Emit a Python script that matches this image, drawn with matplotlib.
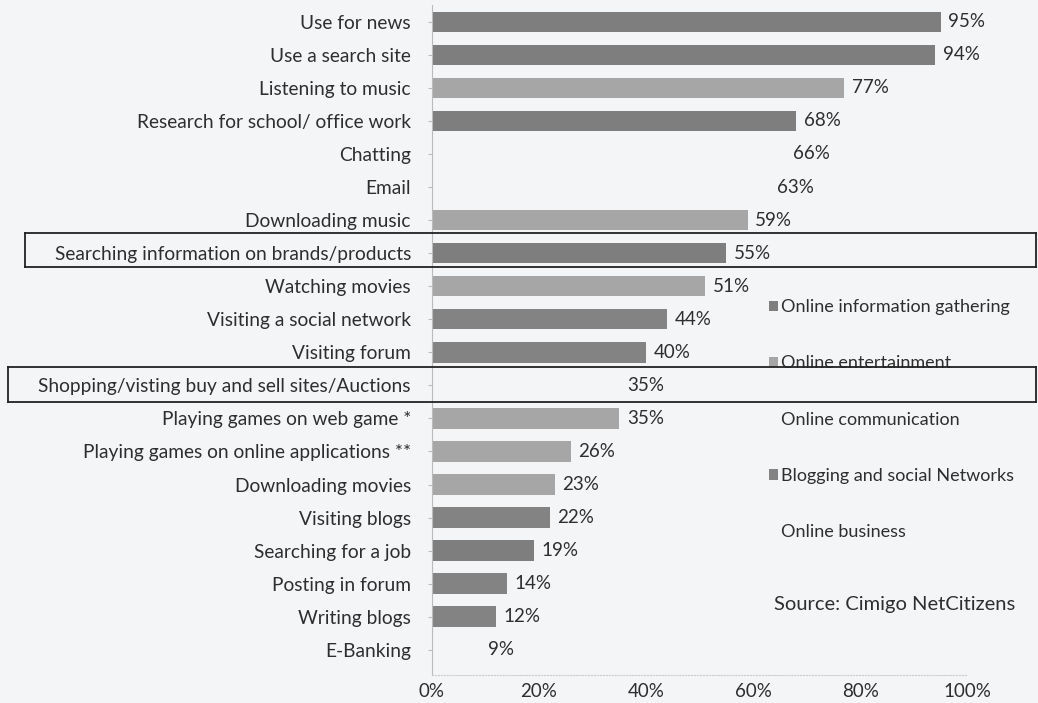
import matplotlib.pyplot as plt
from matplotlib.lines import Line2D
from matplotlib.ticker import PercentFormatter

# === Data ===
activities = [
    'Use for news', 'Use a search site', 'Listening to music',
    'Research for school/ office work', 'Chatting', 'Email',
    'Downloading music', 'Searching information on brands/products',
    'Watching movies', 'Visiting a social network', 'Visiting forum',
    'Shopping/visting buy and sell sites/Auctions',
    'Playing games on web game *', 'Playing games on online applications **',
    'Downloading movies', 'Visiting blogs', 'Searching for a job',
    'Posting in forum', 'Writing blogs', 'E-Banking',
]
values = [95, 94, 77, 68, 66, 63, 59, 55, 51, 44, 40, 35, 35, 26, 23, 22, 19, 14, 12, 9]
groups = ['info', 'info', 'ent', 'info', 'comm', 'comm', 'ent', 'info', 'ent', 'blog',
          'blog', 'biz', 'ent', 'ent', 'ent', 'blog', 'info', 'blog', 'blog', 'biz']

group_names = ['info', 'ent', 'comm', 'blog', 'biz']
group_labels = ['Online information gathering', 'Online entertainment',
                'Online communication', 'Blogging and social Networks', 'Online business']
group_colors = {'info': '#7e7e7e', 'ent': '#a6a6a6', 'comm': '#f4f5f7',
                'blog': '#838383', 'biz': '#f4f5f7'}

plt.rcParams['font.family'] = ['Lato', 'DejaVu Sans']
bg = '#f4f5f7'
txt = '#2e2e2e'

fig = plt.figure(figsize=(10.38, 7.03), dpi=100, facecolor=bg)
ax = fig.add_axes([0.416, 0.040, 0.516, 0.953], facecolor=bg)

ypos = list(range(len(activities)))
handles = []
for g, lab in zip(group_names, group_labels):
    idx = [i for i in ypos if groups[i] == g]
    h = ax.barh([ypos[i] for i in idx], [values[i] / 100 for i in idx], height=0.62,
                color=group_colors[g], label=lab)
    handles.append(h)

for i, v in enumerate(values):
    ax.text(v / 100 + 0.014, i, f'{v}%', va='center', ha='left', fontsize=13.5, color=txt)

ax.set_ylim(19.76, -0.51)
ax.set_xlim(0, 1.0)
ax.set_yticks(ypos)
ax.set_yticklabels(activities, fontsize=13.8, color=txt)
ax.set_xticks([0, 0.2, 0.4, 0.6, 0.8, 1.0])
ax.xaxis.set_major_formatter(PercentFormatter(1.0, decimals=0))
ax.tick_params(axis='x', length=0, labelsize=13.5, colors=txt, pad=6)
ax.tick_params(axis='y', length=3, color='#bbbbbb', pad=12)

for s in ['top', 'right']:
    ax.spines[s].set_visible(False)
ax.spines['left'].set_color('#bbbbbb')
ax.spines['left'].set_linewidth(0.8)
ax.spines['bottom'].set_color('#cccccc')
ax.spines['bottom'].set_linestyle(':')

leg = ax.legend(handles=handles, loc='upper left', bbox_to_anchor=(0.6, 0.585),
                frameon=False, fontsize=13, labelspacing=2.23, handlelength=0.5,
                handleheight=0.5, handletextpad=0.15, labelcolor=txt)

fig.text(0.746, 0.132, 'Source: Cimigo NetCitizens', fontsize=14.5, color=txt)

# === Highlight boxes around two rows ===
W, H = 1038, 703
def box(x0, y0, x1, y1):
    for (a, b, c, d) in [(x0, y0, x1, y0), (x0, y1, x1, y1), (x0, y0, x0, y1), (x1, y0, x1, y1)]:
        fig.add_artist(Line2D([a / W, c / W], [1 - b / H, 1 - d / H],
                              color='#222222', lw=1.3, transform=fig.transFigure))

box(25, 233, 1036, 267)
box(8, 367, 1036, 402)

plt.savefig('out.png', dpi=100, facecolor=bg)
